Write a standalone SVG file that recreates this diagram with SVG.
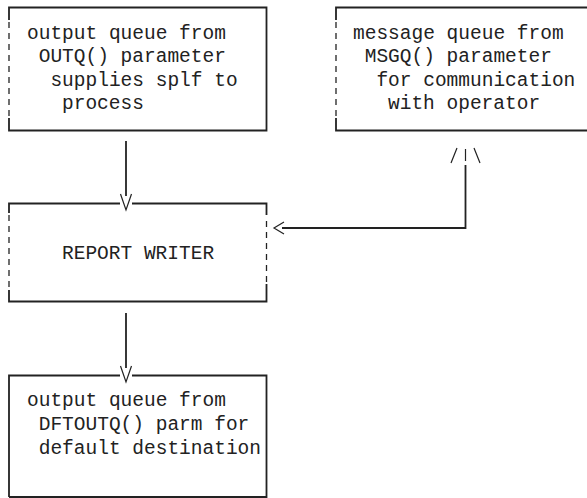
<svg xmlns="http://www.w3.org/2000/svg" width="587" height="498" viewBox="0 0 587 498">
<style>
.t{font-family:"Liberation Mono","DejaVu Sans Mono",monospace;font-size:19.5px;fill:#222;}
.s{fill:none;stroke:#222;stroke-width:1.8;}
.d{fill:none;stroke:#222;stroke-width:1.3;stroke-dasharray:6,5;}
</style>
<rect width="587" height="498" fill="#fff"/>
<g id="node-outq">
<path class="s" d="M9,20 V7.5 H266.5 V130.5 H9 V118"/>
<path class="d" d="M9,22 V116"/>
<text class="t" x="27" y="39">output queue from</text>
<text class="t" x="38.7" y="62.4">OUTQ() parameter</text>
<text class="t" x="50.4" y="86">supplies splf to</text>
<text class="t" x="62" y="109">process</text>
</g>
<g id="node-msgq">
<path class="s" d="M336,20 V7.5 H587 M587,130.5 H336 V118"/>
<path class="d" d="M336,22 V116"/>
<text class="t" x="353" y="39">message queue from</text>
<text class="t" x="364.7" y="62.4">MSGQ() parameter</text>
<text class="t" x="376.4" y="86">for communication</text>
<text class="t" x="388" y="109">with operator</text>
</g>
<g id="node-writer">
<path class="s" d="M9,213 V203.5 H120 M132,203.5 H266.5 V215 M266.5,284 V301.5 H9 V290"/>
<path class="d" d="M9,215 V288 M266.5,221 V282"/>
<text class="t" x="62" y="259">REPORT WRITER</text>
</g>
<g id="node-dftoutq">
<path class="s" d="M9,497 V375.5 H120 M132,375.5 H266.5 V497 H9"/>
<text class="t" x="27" y="406">output queue from</text>
<text class="t" x="38.7" y="430">DFTOUTQ() parm for</text>
<text class="t" x="38.7" y="454">default destination</text>
</g>
<g id="connectors">
<path class="s" d="M126,141 V196"/>
<path class="s" fill="none" d="M120.5,194 L126,210 L131.5,194" style="stroke-width:1.2"/>
<path class="s" d="M126,313 V368"/>
<path class="s" fill="none" d="M120.5,366 L126,382 L131.5,366" style="stroke-width:1.2"/>
<path class="s" d="M465.5,165 V228 H282"/>
<path class="s" d="M284,222 L274,228 L284,234" style="stroke-width:1.2"/>
<path class="s" d="M465.5,149 V161" style="stroke-width:1.2"/>
<path class="s" d="M451,163 L457,148 M474,148 L480,163" style="stroke-width:1.2"/>
</g>
</svg>
